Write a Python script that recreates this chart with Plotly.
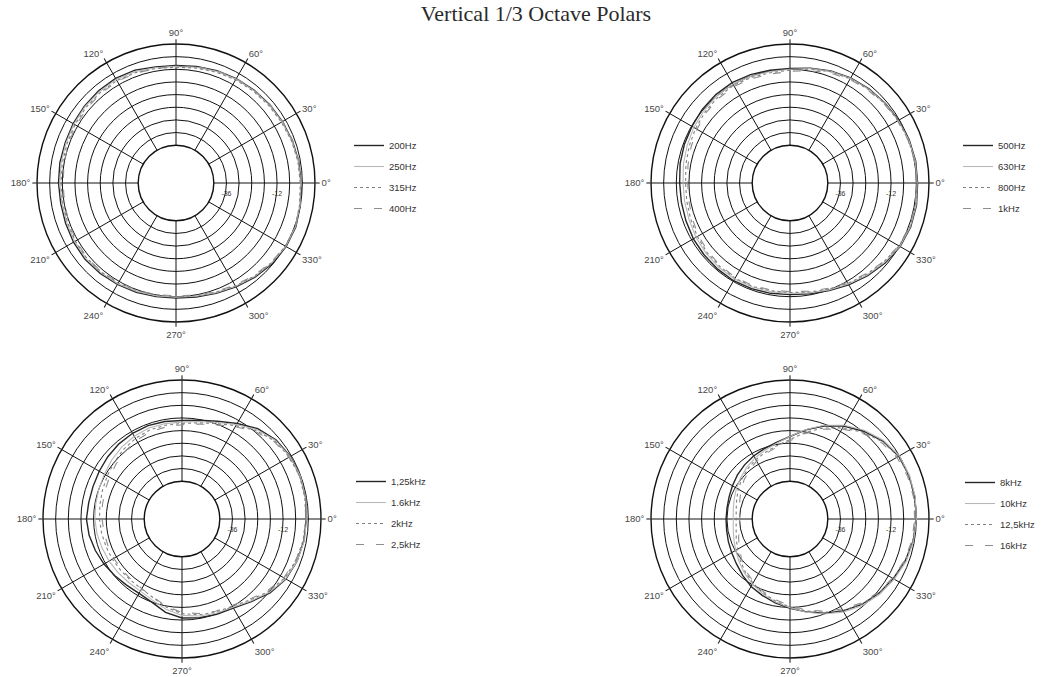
import plotly.graph_objects as go

W, H = 1047, 677

# Measurement angles (degrees), every 10 degrees
angles = list(range(0, 360, 10))

# ---- 200 Hz .. 400 Hz (dB, normalised) ----
tl_labels = ["200Hz", "250Hz", "315Hz", "400Hz"]
tl_200 = [-0.6, -0.8, -1.2, -1.6, -2.0, -2.4, -2.8, -3.2, -3.8, -4.2, -4.0, -3.0,
          -2.6, -2.8, -3.2, -3.6, -4.0, -4.0, -4.2, -4.4, -4.2, -3.8, -3.6, -4.0,
          -4.4, -4.8, -5.2, -5.4, -5.0, -4.2, -3.0, -1.6, -0.4, 0.4, 0.6, 0.0]
tl_250 = [-0.8, -1.0, -1.4, -1.8, -2.2, -2.6, -3.0, -3.6, -4.2, -4.6, -4.4, -3.6,
          -3.2, -3.4, -3.6, -4.0, -4.4, -4.6, -4.8, -5.0, -4.8, -4.4, -4.2, -4.4,
          -4.8, -5.2, -5.6, -5.8, -5.4, -4.6, -3.4, -2.0, -0.8, 0.2, 0.4, -0.2]
tl_315 = [-1.0, -1.2, -1.6, -2.2, -2.6, -3.0, -3.4, -4.0, -4.6, -5.0, -4.8, -4.2,
          -3.8, -4.0, -4.2, -4.6, -5.0, -5.2, -5.4, -5.4, -5.2, -4.8, -4.6, -4.8,
          -5.2, -5.6, -6.0, -6.0, -5.6, -4.8, -3.6, -2.2, -1.0, 0.0, 0.2, -0.4]
tl_400 = [-0.4, -0.6, -1.0, -1.4, -1.8, -2.2, -2.6, -3.2, -4.0, -4.6, -4.8, -4.4,
          -4.2, -4.4, -4.8, -5.2, -5.6, -6.0, -6.4, -6.2, -5.8, -5.2, -4.8, -5.0,
          -5.4, -5.8, -6.2, -6.4, -6.0, -5.2, -4.0, -2.6, -1.2, 0.0, 0.4, 0.0]

# ---- 500 Hz .. 1 kHz ----
tr_labels = ["500Hz", "630Hz", "800Hz", "1kHz"]
tr_500 = [0.6, 0.6, 0.2, -0.4, -1.0, -1.6, -2.4, -3.4, -4.6, -5.6, -5.6, -5.2,
          -5.0, -5.2, -5.6, -6.2, -6.6, -7.0, -7.6, -7.6, -7.4, -7.0, -6.8, -6.6,
          -6.4, -6.6, -6.8, -7.0, -6.6, -5.6, -4.2, -2.6, -1.0, 0.4, 1.0, 1.0]
tr_630 = [0.4, 0.4, 0.0, -0.6, -1.2, -1.8, -2.6, -3.6, -4.8, -6.0, -6.2, -6.0,
          -5.8, -6.0, -6.6, -7.2, -8.0, -8.6, -9.2, -9.2, -9.0, -8.4, -8.0, -7.6,
          -7.4, -7.4, -7.6, -7.6, -7.0, -6.0, -4.6, -3.0, -1.4, 0.2, 0.8, 0.8]
tr_800 = [0.2, 0.2, -0.2, -0.8, -1.4, -2.0, -2.8, -3.8, -5.0, -6.4, -6.8, -6.6,
          -6.4, -6.8, -7.4, -8.2, -9.0, -9.8, -10.4, -10.2, -9.8, -9.2, -8.6, -8.2,
          -7.8, -7.8, -8.0, -8.0, -7.4, -6.4, -5.0, -3.4, -1.8, -0.2, 0.6, 0.6]
tr_1k = [0.0, 0.0, -0.4, -1.0, -1.6, -2.4, -3.2, -4.4, -5.8, -7.0, -7.4, -7.2,
         -7.0, -7.4, -8.0, -9.0, -10.0, -10.8, -11.4, -11.2, -10.6, -9.8, -9.2, -8.6,
         -8.2, -8.2, -8.4, -8.4, -7.8, -6.8, -5.4, -3.8, -2.0, -0.4, 0.4, 0.4]

# ---- 1.25 kHz .. 2.5 kHz ----
bl_labels = ["1,25kHz", "1.6kHz", "2kHz", "2,5kHz"]
bl_1250 = [-1.0, -0.4, -0.2, -0.6, -1.6, -4.0, -7.6, -10.6, -12.4, -13.2, -13.0, -12.8,
           -13.0, -13.4, -14.0, -14.6, -15.0, -15.0, -14.6, -15.2, -16.2, -17.2, -18.2, -19.0,
           -19.2, -18.0, -15.0, -13.0, -12.4, -11.8, -11.2, -8.8, -5.4, -3.0, -1.8, -1.2]
bl_1600 = [-0.8, -0.4, -0.2, -0.8, -2.0, -4.6, -8.2, -11.2, -13.0, -14.0, -14.0, -14.0,
           -14.6, -15.4, -16.4, -17.4, -18.0, -18.4, -18.6, -19.0, -19.6, -20.0, -20.4, -20.6,
           -20.4, -19.0, -16.4, -14.2, -13.2, -12.4, -11.6, -9.2, -5.8, -3.2, -1.8, -1.0]
bl_2000 = [-1.2, -0.8, -0.6, -1.2, -2.4, -5.2, -8.8, -11.8, -13.6, -14.6, -14.8, -15.0,
           -15.8, -16.8, -18.0, -19.0, -19.8, -20.4, -20.8, -21.2, -21.6, -21.8, -22.0, -22.0,
           -21.6, -20.2, -17.4, -15.0, -13.8, -13.0, -12.2, -9.8, -6.4, -3.8, -2.4, -1.6]
bl_2500 = [-0.6, -0.4, -0.6, -1.4, -2.8, -5.8, -9.4, -12.4, -14.2, -15.2, -15.6, -16.0,
           -16.8, -18.0, -19.2, -20.2, -21.0, -21.6, -22.0, -22.4, -22.6, -22.6, -22.6, -22.4,
           -21.8, -20.4, -17.8, -15.6, -14.4, -13.4, -12.6, -10.2, -7.0, -4.2, -2.6, -1.2]

# ---- 8 kHz .. 16 kHz ----
br_labels = ["8kHz", "10kHz", "12,5kHz", "16kHz"]
br_8k = [0.0, 0.2, 0.2, -0.4, -2.4, -5.6, -9.0, -13.0, -17.0, -20.8, -23.0, -24.4,
         -25.4, -26.4, -27.4, -28.4, -29.2, -29.6, -29.6, -29.4, -28.8, -28.0, -26.8, -25.0,
         -23.0, -21.4, -19.6, -17.6, -15.2, -12.4, -9.6, -7.0, -5.0, -3.4, -1.8, -0.6]
br_10k = [0.0, 0.4, 0.4, 0.0, -2.0, -5.0, -8.6, -12.6, -16.8, -20.8, -23.4, -25.2,
          -26.6, -28.0, -29.4, -30.6, -31.8, -32.6, -33.0, -32.6, -31.6, -30.2, -28.4, -26.4,
          -24.2, -22.2, -20.0, -17.8, -15.0, -12.0, -9.0, -6.4, -4.4, -2.8, -1.2, -0.4]
br_12k = [-0.4, 0.0, 0.0, -0.6, -2.8, -6.2, -10.0, -14.0, -18.2, -22.2, -24.6, -26.2,
          -27.4, -28.8, -30.2, -31.6, -33.0, -34.0, -34.4, -34.0, -32.8, -31.2, -29.2, -27.0,
          -24.8, -22.6, -20.4, -18.2, -15.6, -12.8, -9.8, -7.2, -5.0, -3.2, -1.8, -0.8]
br_16k = [-0.8, -0.4, -0.6, -1.4, -3.4, -6.8, -10.6, -14.6, -18.8, -22.8, -25.2, -26.8,
          -28.2, -29.8, -31.4, -33.0, -34.6, -35.6, -36.0, -35.4, -34.0, -32.2, -30.0, -27.6,
          -25.4, -23.2, -21.0, -18.8, -16.2, -13.4, -10.6, -7.8, -5.6, -3.8, -2.2, -1.2]

# Radial rings (dB) and angular spokes
ring_vals = [-42, -36, -30, -24, -18, -12, -6, 0]
ring_text = ["", "-36", "", "", "", "-12", "", ""]
spoke_vals = list(range(0, 360, 30))
spoke_text = [f"{a}°" for a in spoke_vals]

GRID = "#111111"
GRID_W = 1.4
LINE_STYLES = [
    dict(color="#262626", width=1.4, dash="solid"),
    dict(color="#b8b8b8", width=1.1, dash="solid"),
    dict(color="#808080", width=1.1, dash="dot"),
    dict(color="#8e8e8e", width=1.1, dash="8px,12px"),
]

R_PX = 139

panels = [
    dict(polar="polar", legend="legend", cx=176, cy=183, leg=(349, 131),
         labels=tl_labels, series=[tl_200, tl_250, tl_315, tl_400]),
    dict(polar="polar2", legend="legend2", cx=790, cy=183, leg=(958, 131),
         labels=tr_labels, series=[tr_500, tr_630, tr_800, tr_1k]),
    dict(polar="polar3", legend="legend3", cx=182, cy=519, leg=(351, 467),
         labels=bl_labels, series=[bl_1250, bl_1600, bl_2000, bl_2500]),
    dict(polar="polar4", legend="legend4", cx=790, cy=519, leg=(960, 468),
         labels=br_labels, series=[br_8k, br_10k, br_12k, br_16k]),
]

fig = go.Figure()

for p in panels:
    for i, (name, vals) in enumerate(zip(p["labels"], p["series"])):
        fig.add_trace(go.Scatterpolar(
            r=vals + vals[:1],
            theta=angles + [360],
            mode="lines",
            name=name,
            line=LINE_STYLES[i],
            subplot=p["polar"],
            legend=p["legend"],
            legendgroup=f"{p['polar']}_{i}",
            hoverinfo="skip",
        ))


def polar_layout(cx, cy):
    return dict(
        domain=dict(x=[(cx - R_PX) / W, (cx + R_PX) / W],
                    y=[(H - cy - R_PX) / H, (H - cy + R_PX) / H]),
        hole=0.272,
        bgcolor="white",
        radialaxis=dict(
            range=[-42, 6], tickvals=ring_vals, ticktext=ring_text,
            showgrid=True, gridcolor=GRID, gridwidth=GRID_W,
            showline=False, angle=0, side="clockwise", tickangle=0,
            ticks="outside", ticklen=4, tickcolor="rgba(0,0,0,0)",
            tickfont=dict(family="Liberation Sans, Arial", size=7, color="#333333"),
        ),
        angularaxis=dict(
            rotation=0, direction="counterclockwise",
            tickvals=spoke_vals, ticktext=spoke_text,
            showgrid=True, gridcolor=GRID, gridwidth=GRID_W,
            showline=True, linecolor=GRID, linewidth=GRID_W,
            ticks="outside", ticklen=4, tickcolor=GRID, tickwidth=GRID_W,
            tickfont=dict(family="Liberation Sans, Arial", size=9.5, color="#484848"),
        ),
    )


def legend_layout(x, y):
    return dict(
        x=x / W, y=1 - y / H, xanchor="left", yanchor="top",
        bgcolor="rgba(0,0,0,0)", borderwidth=0,
        font=dict(family="Liberation Sans, Arial", size=9.5, color="#333333"),
        traceorder="grouped", tracegroupgap=2, itemwidth=30,
    )


layout = dict(
    width=W, height=H,
    margin=dict(l=0, r=0, t=0, b=0),
    paper_bgcolor="white",
    showlegend=True,
    title=dict(
        text="Vertical 1/3 Octave Polars",
        x=536 / W, y=1 - 13 / H, xref="paper", yref="paper",
        xanchor="center", yanchor="middle",
        font=dict(family="Liberation Serif, Times New Roman, serif", size=22, color="#2a2a2a"),
    ),
)
for p in panels:
    layout[p["polar"]] = polar_layout(p["cx"], p["cy"])
    layout[p["legend"]] = legend_layout(*p["leg"])

fig.update_layout(**layout)
fig.write_html("out.html")
